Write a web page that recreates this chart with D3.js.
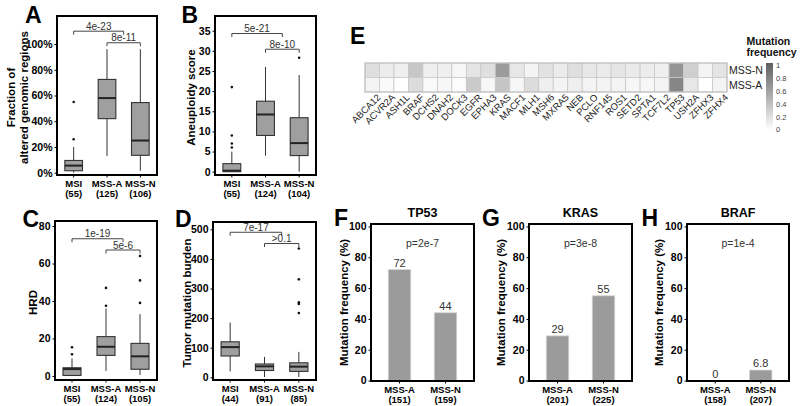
<!DOCTYPE html>
<html lang="en">
<head>
<meta charset="UTF-8">
<title>Aneuploidy and mutation panels</title>
<script src="https://d3js.org/d3.v7.min.js"></script>
<style>
  body { margin: 0; background: #fff; }
  svg { display: block; font-family: "Liberation Sans", Arial, sans-serif; }
  .letter { font-size: 23px; font-weight: bold; fill: #000; }
  .ytick text { font-size: 10.5px; font-weight: bold; fill: #000; font-family: "Liberation Sans", Arial, sans-serif; }
  .ytitle { font-size: 11.5px; font-weight: bold; fill: #000; }
  .xlab { font-size: 9.5px; font-weight: bold; fill: #000; }
  .pval { font-size: 10px; fill: #333; }
  .ptop { font-size: 10.5px; fill: #333; }
  .barval { font-size: 11px; fill: #333; }
  .ptitle { font-size: 12.5px; font-weight: bold; fill: #000; }
  .gene { font-size: 9.5px; fill: #222; }
  .rowlab { font-size: 10.5px; fill: #222; }
  .legtitle { font-size: 10.5px; font-weight: bold; fill: #111; }
  .legtick text { font-size: 7.5px; fill: #444; font-family: "Liberation Sans", Arial, sans-serif; }
</style>
</head>
<body>
<svg id="fig" width="800" height="406"></svg>
<script>
// ---- data ----
const boxGroups = ["MSI", "MSS-A", "MSS-N"];

// box stats: [min, q1, median, q3, max]
const fgaStats = [[0, 0.015, 0.055, 0.095, 0.20], [0.13, 0.42, 0.58, 0.725, 0.96], [0.015, 0.135, 0.25, 0.545, 0.96]];
const fgaOutliers = [[0.26, 0.55], [], []];
const fgaN = [55, 125, 106];
const fgaTicks = [0, 0.2, 0.4, 0.6, 0.8, 1.0];
const fgaP = ["4e-23", "8e-11"];

const aneuStats = [[0, 0, 0.25, 2, 5], [4, 9, 14.2, 17.5, 26], [0, 4, 7.1, 13.4, 24]];
const aneuOutliers = [[6, 7, 9, 21], [], [28.3]];
const aneuN = [55, 124, 104];
const aneuTicks = [0, 5, 10, 15, 20, 25, 30, 35];
const aneuP = ["5e-21", "8e-10"];

const hrdStats = [[0, 0.3, 3.7, 4.4, 9.4], [2.7, 11, 15.6, 21, 36], [0.5, 3.6, 10.5, 17.4, 33]];
const hrdOutliers = [[11.6, 15.3], [37.5, 47], [39, 51, 64]];
const hrdN = [55, 124, 105];
const hrdTicks = [0, 20, 40, 60, 80];
const hrdP = ["1e-19", "5e-6"];

const tmbStats = [[20, 72, 102, 120, 185], [1, 23, 37, 45, 69], [1, 20, 36, 49, 86]];
const tmbOutliers = [[], [], [217, 248, 253, 331, 435]];
const tmbN = [44, 91, 85];
const tmbTicks = [0, 100, 200, 300, 400, 500];
const tmbP = ["7e-17", ">0.1"];

const barGroups = ["MSS-A", "MSS-N"];
const barTicks = [0, 20, 40, 60, 80, 100];
const tp53Freq = [72, 44];
const tp53N = [151, 159];
const krasFreq = [29, 55];
const krasN = [201, 225];
const brafFreq = [0, 6.8];
const brafN = [158, 207];

const genes = ["ABCA12", "ACVR2A", "ASH1L", "BRAF", "DCHS2", "DNAH2", "DOCK3", "EGFR", "EPHA3", "KRAS",
  "MACF1", "MLH1", "MSH6", "MXRA5", "NEB", "PCLO", "RNF145", "ROS1", "SETD2", "SPTA1", "TCF7L2",
  "TP53", "USH2A", "ZFHX3", "ZFHX4"];
const heatRows = ["MSS-N", "MSS-A"];
const mssNFreq = [0.2, 0.12, 0.1, 0.35, 0.1, 0.1, 0.05, 0.17, 0.2, 0.62, 0.15, 0.07, 0.18, 0.12, 0.2,
  0.15, 0.13, 0.16, 0.13, 0.12, 0.1, 0.66, 0.3, 0.07, 0.17];
const mssAFreq = [0.07, 0.03, 0.0, 0.22, 0.03, 0.05, 0.02, 0.33, 0.05, 0.36, 0.05, 0.22, 0.1, 0.07, 0.1,
  0.07, 0.07, 0.07, 0.05, 0.05, 0.07, 0.75, 0.15, 0.0, 0.07];
const legendTicks = [0, 0.2, 0.4, 0.6, 0.8, 1];

// ---- drawing ----
const svg = d3.select("#fig");

function letter(t, x, y) {
  svg.append("text").attr("class", "letter").attr("x", x).attr("y", y).text(t);
}

function yAxisAt(g, y, x0, ticks, fmt) {
  const ax = g.append("g").attr("class", "ytick")
    .attr("transform", `translate(${x0},0)`)
    .call(d3.axisLeft(y).tickValues(ticks).tickFormat(fmt).tickSize(2.5).tickPadding(2));
  ax.select(".domain").remove();
  ax.selectAll("line").attr("stroke", "#000");
  ax.selectAll("text").attr("font-size", null).attr("font-family", null);
}

function xLabels(g, xpos, names, counts, y1) {
  const t = g.selectAll(".xlab").data(names).join("text")
    .attr("class", "xlab").attr("text-anchor", "middle");
  t.append("tspan").attr("x", d => xpos(d)).attr("y", y1 + 11.5).text(d => d);
  t.append("tspan").attr("x", d => xpos(d)).attr("y", y1 + 22).text((d, i) => `(${counts[i]})`);
  g.selectAll(".xt").data(names).join("line")
    .attr("x1", d => xpos(d)).attr("x2", d => xpos(d))
    .attr("y1", y1).attr("y2", y1 + 2.5).attr("stroke", "#000");
}

function yTitle(g, lines, x, y) {
  const t = g.append("text").attr("class", "ytitle").attr("text-anchor", "middle")
    .attr("transform", `translate(${x},${y}) rotate(-90)`);
  lines.forEach((l, i) => t.append("tspan").attr("x", 0).attr("y", i * 12.5).text(l));
}

function frameRect(g, f) {
  g.append("rect").attr("x", f.x0).attr("y", f.y0)
    .attr("width", f.x1 - f.x0).attr("height", f.y1 - f.y0)
    .attr("fill", "none").attr("stroke", "#000").attr("stroke-width", 2);
}

function boxPanel(cfg) {
  const f = cfg.frame;
  const g = svg.append("g");
  const x = d3.scalePoint().domain(boxGroups).range([f.x0, f.x1]).padding(0.5);
  const y = d3.scaleLinear().domain(cfg.domain).range([f.y1, f.y0]);
  const bw = x.step() * 0.53;
  const xi = i => x(boxGroups[0]) + i * x.step();

  yAxisAt(g, y, f.x0, cfg.ticks, cfg.fmt);

  boxGroups.forEach((grp, i) => {
    const [mn, q1, md, q3, mx] = cfg.stats[i];
    const cx = x(grp);
    g.append("line").attr("x1", cx).attr("x2", cx).attr("y1", y(mx)).attr("y2", y(mn))
      .attr("stroke", "#333").attr("stroke-width", 1);
    g.append("rect").attr("x", cx - bw / 2).attr("width", bw)
      .attr("y", y(q3)).attr("height", Math.max(1, y(q1) - y(q3)))
      .attr("fill", "#9f9f9f").attr("stroke", "#333").attr("stroke-width", 1.1);
    g.append("line").attr("x1", cx - bw / 2).attr("x2", cx + bw / 2)
      .attr("y1", y(md)).attr("y2", y(md)).attr("stroke", "#222").attr("stroke-width", 2);
    g.selectAll(null).data(cfg.outliers[i]).join("circle")
      .attr("cx", cx).attr("cy", d => y(d)).attr("r", 1.3).attr("fill", "#111");
  });

  cfg.brackets.forEach((b, k) => {
    const xa = xi(b[0]), xb = xi(b[1]), yy = y(b[2]);
    g.append("path").attr("d", `M${xa},${yy + 3.5}V${yy}H${xb}V${yy + 3.5}`)
      .attr("fill", "none").attr("stroke", "#444").attr("stroke-width", 1);
    g.append("text").attr("class", "pval").attr("text-anchor", "middle")
      .attr("x", (xa + xb) / 2).attr("y", yy - 1.5).text(cfg.pvals[k]);
  });

  xLabels(g, x, boxGroups, cfg.counts, f.y1);
  yTitle(g, cfg.title, cfg.titleX, (f.y0 + f.y1) / 2 + 2);
  frameRect(g, f);
}

function barPanel(cfg) {
  const f = cfg.frame;
  const g = svg.append("g");
  const x = d3.scalePoint().domain(barGroups).range([f.x0, f.x1]).padding(0.62);
  const y = d3.scaleLinear().domain([-0.3, 101.6]).range([f.y1, f.y0]);
  const bw = x.step() * 0.49;

  yAxisAt(g, y, f.x0, barTicks, d3.format("d"));

  g.selectAll(".bar").data(cfg.freq).join("rect")
    .attr("x", (d, i) => x(barGroups[i]) - bw / 2).attr("width", bw)
    .attr("y", d => y(d)).attr("height", d => y(0) - y(d))
    .attr("fill", "#9b9b9b").attr("stroke", "#d6d6d6").attr("stroke-width", 0.8);
  g.selectAll(".bv").data(cfg.freq).join("text")
    .attr("class", "barval").attr("text-anchor", "middle")
    .attr("x", (d, i) => x(barGroups[i])).attr("y", d => y(d) - 3).text(d => d);

  g.append("text").attr("class", "ptop").attr("text-anchor", "middle")
    .attr("x", (f.x0 + f.x1) / 2).attr("y", 246.5).text(cfg.p);
  g.append("text").attr("class", "ptitle").attr("text-anchor", "middle")
    .attr("x", (f.x0 + f.x1) / 2).attr("y", f.y0 - 7.5).text(cfg.gene);

  xLabels(g, x, barGroups, cfg.counts, f.y1);
  yTitle(g, ["Mutation frequency (%)"], cfg.titleX, (f.y0 + f.y1) / 2);
  frameRect(g, f);
}

const pct = d3.format(".0%");

boxPanel({ frame: { x0: 57, x1: 157, y0: 16, y1: 175 }, domain: [-0.018, 1.218],
  ticks: fgaTicks, fmt: pct, stats: fgaStats, outliers: fgaOutliers, counts: fgaN, pvals: fgaP,
  brackets: [[0, 1.5, 1.10], [1, 2, 1.01]], title: ["Fraction of", "altered genomic regions"], titleX: 15 });
boxPanel({ frame: { x0: 215, x1: 316, y0: 16, y1: 175 }, domain: [-0.82, 38.65],
  ticks: aneuTicks, fmt: d3.format("d"), stats: aneuStats, outliers: aneuOutliers, counts: aneuN, pvals: aneuP,
  brackets: [[0, 1.5, 34.3], [1, 2, 30.4]], title: ["Aneuploidy score"], titleX: 195 });
boxPanel({ frame: { x0: 55, x1: 157, y0: 221, y1: 380 }, domain: [-2.13, 82.67],
  ticks: hrdTicks, fmt: d3.format("d"), stats: hrdStats, outliers: hrdOutliers, counts: hrdN, pvals: hrdP,
  brackets: [[0, 1.5, 73.2], [1, 2, 67.2]], title: ["HRD"], titleX: 37 });
boxPanel({ frame: { x0: 213, x1: 316, y0: 222, y1: 380 }, domain: [-9.1, 524.7],
  ticks: tmbTicks, fmt: d3.format("d"), stats: tmbStats, outliers: tmbOutliers, counts: tmbN, pvals: tmbP,
  brackets: [[0, 1.5, 490], [1, 2, 452]], title: ["Tumor mutation burden"], titleX: 190.5 });

barPanel({ frame: { x0: 371, x1: 474, y0: 224, y1: 381 }, freq: tp53Freq, counts: tp53N,
  p: "p=2e-7", gene: "TP53", titleX: 347.5 });
barPanel({ frame: { x0: 529, x1: 632, y0: 224, y1: 381 }, freq: krasFreq, counts: krasN,
  p: "p=3e-8", gene: "KRAS", titleX: 505 });
barPanel({ frame: { x0: 687, x1: 789, y0: 224, y1: 381 }, freq: brafFreq, counts: brafN,
  p: "p=1e-4", gene: "BRAF", titleX: 663 });

// heatmap (E)
const hx = d3.scaleBand().domain(genes).range([365, 727]);
const hy = d3.scaleBand().domain(heatRows).range([63, 92]);
const heatColor = d3.scaleLinear().domain([0, 1]).range(["#ffffff", "#5e5e5e"]);
const heatCells = [];
genes.forEach((gn, i) => {
  heatCells.push({ gene: gn, row: "MSS-N", v: mssNFreq[i] });
  heatCells.push({ gene: gn, row: "MSS-A", v: mssAFreq[i] });
});
const hg = svg.append("g");
hg.selectAll("rect").data(heatCells).join("rect")
  .attr("x", d => hx(d.gene)).attr("y", d => hy(d.row))
  .attr("width", hx.bandwidth()).attr("height", hy.bandwidth())
  .attr("fill", d => heatColor(d.v)).attr("stroke", "#c9c9c9").attr("stroke-width", 0.8);
hg.append("rect").attr("x", 365).attr("y", 63).attr("width", 362).attr("height", 29)
  .attr("fill", "none").attr("stroke", "#bdbdbd").attr("stroke-width", 1);
hg.selectAll(".gene").data(genes).join("text").attr("class", "gene")
  .attr("text-anchor", "end").attr("dy", "0.75em")
  .attr("transform", d => `translate(${hx(d) + hx.bandwidth() / 2 + 4},${93}) rotate(-45)`)
  .text(d => d);
hg.selectAll(".rowlab").data(heatRows).join("text").attr("class", "rowlab")
  .attr("x", 729).attr("y", d => hy(d) + hy.bandwidth() / 2 + 3.8).text(d => d);

// legend
const defs = svg.append("defs");
const grad = defs.append("linearGradient").attr("id", "mfgrad")
  .attr("x1", 0).attr("y1", 1).attr("x2", 0).attr("y2", 0);
grad.append("stop").attr("offset", "0%").attr("stop-color", heatColor(0));
grad.append("stop").attr("offset", "100%").attr("stop-color", heatColor(1));
const ly = d3.scaleLinear().domain([0, 1]).range([129.5, 65.5]);
svg.append("rect").attr("x", 766).attr("y", 63).attr("width", 7).attr("height", 67)
  .attr("fill", "url(#mfgrad)");
const lax = svg.append("g").attr("class", "legtick").attr("transform", "translate(773,0)")
  .call(d3.axisRight(ly).tickValues(legendTicks).tickFormat(d3.format("~g")).tickSize(0).tickPadding(3));
lax.select(".domain").remove();
lax.selectAll("text").attr("font-size", null).attr("font-family", null);
svg.append("text").attr("class", "legtitle").attr("x", 746.5).attr("y", 45).text("Mutation");
svg.append("text").attr("class", "legtitle").attr("x", 746.5).attr("y", 56).text("frequency");

letter("A", 25, 23);
letter("B", 181.5, 23);
letter("C", 22.5, 227);
letter("D", 175, 227);
letter("E", 350, 44);
letter("F", 334, 226);
letter("G", 482, 226);
letter("H", 641.5, 226);
</script>
</body>
</html>
